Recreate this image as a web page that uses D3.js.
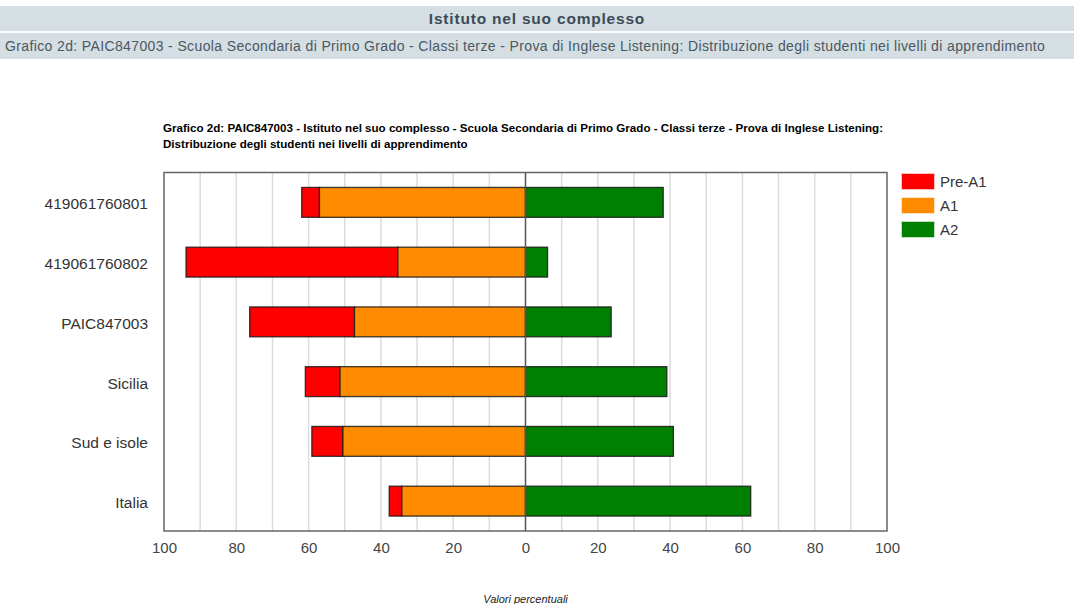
<!DOCTYPE html>
<html>
<head>
<meta charset="utf-8">
<script src="https://cdn.jsdelivr.net/npm/d3@7"></script>
<style>
  body { margin: 0; background: #fff; font-family: "Liberation Sans", Arial, sans-serif; }
  .band { position: absolute; left: 0; width: 1074px; background: #d5dee2; color: #3b4b57; font-size: 14px; }
  #b1 { top: 6px; height: 25px; line-height: 25px; text-align: center; font-weight: bold; font-size: 15.5px; letter-spacing: 0.8px; }
  #b2 { top: 33px; height: 26px; line-height: 26px; padding-left: 5px; color: #4a5862; box-sizing: border-box; letter-spacing: 0.37px; white-space: nowrap; }
  svg { position: absolute; left: 0; top: 0; }
</style>
</head>
<body>
<div class="band" id="b1">Istituto nel suo complesso</div>
<div class="band" id="b2">Grafico 2d: PAIC847003 - Scuola Secondaria di Primo Grado - Classi terze - Prova di Inglese Listening: Distribuzione degli studenti nei livelli di apprendimento</div>
<script>
var categories = ['419061760801', '419061760802', 'PAIC847003', 'Sicilia', 'Sud e isole', 'Italia']
var preA1 = [4.9, 58.6, 29.0, 9.6, 8.6, 3.5]
var a1 = [57.0, 35.3, 47.3, 51.3, 50.5, 34.2]
var a2 = [38.1, 6.1, 23.7, 39.1, 40.9, 62.3]
var levels = ['Pre-A1', 'A1', 'A2']
var colors = ['#ff0000', '#ff8c00', '#008000']
var ticks = [-100, -80, -60, -40, -20, 0, 20, 40, 60, 80, 100]

var W = 1074, H = 604
var svg = d3.select('body').append('svg').attr('width', W).attr('height', H)

var pLeft = 164, pRight = 887, pTop = 172.5, pBottom = 531

var x = d3.scaleLinear().domain([-100, 100]).range([pLeft, pRight])
var y = d3.scaleBand().domain(categories).range([pTop, pBottom]).paddingInner(0.5).paddingOuter(0.25)

// title
svg.append('text').attr('x', 163).attr('y', 132)
  .style('font-size', '11.6px').style('font-weight', 'bold')
  .text('Grafico 2d: PAIC847003 - Istituto nel suo complesso - Scuola Secondaria di Primo Grado - Classi terze - Prova di Inglese Listening:')
svg.append('text').attr('x', 163).attr('y', 148)
  .style('font-size', '11.6px').style('font-weight', 'bold')
  .text('Distribuzione degli studenti nei livelli di apprendimento')

// gridlines
svg.append('g').selectAll('line').data(d3.range(-90, 100, 10).filter(d => d != 0))
  .join('line')
  .attr('x1', d => x(d)).attr('x2', d => x(d))
  .attr('y1', pTop).attr('y2', pBottom)
  .attr('stroke', '#dcdcdc').attr('stroke-width', 1.5)

// bars: pre-A1 and A1 go left of zero, A2 right
var rows = categories.map((c, i) => ({
  cat: c,
  segs: [
    {lev: 0, x0: -(preA1[i] + a1[i]), x1: -a1[i]},
    {lev: 1, x0: -a1[i], x1: 0},
    {lev: 2, x0: 0, x1: a2[i]}
  ]
}))

var rowSel = svg.append('g').selectAll('g').data(rows).join('g')
  .attr('transform', d => `translate(0,${y(d.cat)})`)

rowSel.selectAll('rect').data(d => d.segs).join('rect')
  .attr('x', d => x(d.x0))
  .attr('width', d => x(d.x1) - x(d.x0))
  .attr('height', y.bandwidth())
  .attr('fill', d => colors[d.lev])
  .attr('stroke', '#1a1a1a').attr('stroke-opacity', 0.85).attr('stroke-width', 1.3)

// frame and zero line
svg.append('rect').attr('x', pLeft).attr('y', pTop).attr('width', pRight - pLeft).attr('height', pBottom - pTop)
  .attr('fill', 'none').attr('stroke', '#666').attr('stroke-width', 1.5)
svg.append('line').attr('x1', x(0)).attr('x2', x(0)).attr('y1', pTop).attr('y2', pBottom)
  .attr('stroke', '#555').attr('stroke-width', 1.5)

// x axis
var xAxis = d3.axisBottom(x).tickValues(ticks).tickSize(0).tickPadding(11).tickFormat(d => Math.abs(d))
var ax = svg.append('g').attr('transform', `translate(0,${pBottom})`).call(xAxis)
ax.select('.domain').remove()
ax.selectAll('text').style('font-size', '15px').attr('fill', '#444').style('font-family', '"Liberation Sans", Arial, sans-serif')

// y axis
var yAxis = d3.axisLeft(y).tickSize(0).tickPadding(16)
var ay = svg.append('g').attr('transform', `translate(${pLeft},2)`).call(yAxis)
ay.select('.domain').remove()
ay.selectAll('text').style('font-size', '15.5px').attr('fill', '#333').style('font-family', '"Liberation Sans", Arial, sans-serif')

// axis title
svg.append('text').attr('x', x(0)).attr('y', 603).attr('text-anchor', 'middle')
  .style('font-size', '11px').style('font-style', 'italic').attr('fill', '#222')
  .text('Valori percentuali')

// legend
var lg = svg.append('g').selectAll('g').data(levels).join('g')
  .attr('transform', (d, i) => `translate(902,${174 + i * 24})`)
lg.append('rect').attr('width', 32).attr('height', 15)
  .attr('fill', (d, i) => colors[i]).attr('stroke', (d, i) => colors[i]).attr('stroke-opacity', 0.5)
lg.append('text').attr('x', 38).attr('y', 13)
  .style('font-size', '15px').attr('fill', '#333').text(d => d)
</script>
</body>
</html>
